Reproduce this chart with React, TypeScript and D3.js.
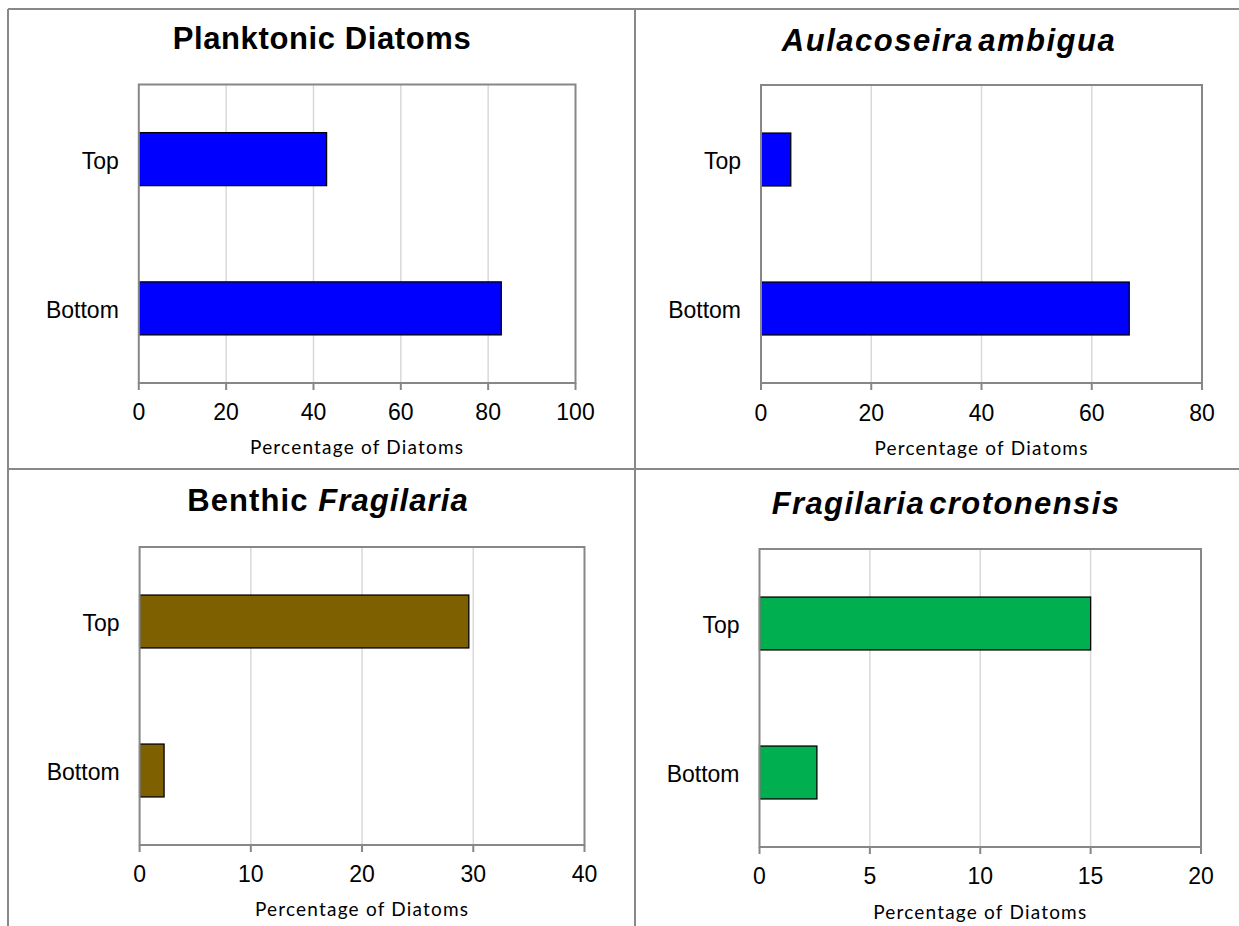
import React from "react";
import * as d3 from "d3";

const categories = ["Top", "Bottom"];
const planktonicValues = [43.0, 83.0];
const aulacoseiraValues = [5.4, 66.8];
const benthicValues = [29.6, 2.2];
const crotonensisValues = [15.0, 2.6];
const ticksPlanktonic = [0, 20, 40, 60, 80, 100];
const ticksAulacoseira = [0, 20, 40, 60, 80];
const ticksBenthic = [0, 10, 20, 30, 40];
const ticksCrotonensis = [0, 5, 10, 15, 20];
const axisTitleText = "Percentage of Diatoms";

type Seg = { text: string; italic?: boolean };
const titlePlanktonic: Seg[] = [{ text: "Planktonic Diatoms" }];
const titleAulacoseira: Seg[] = [{ text: "Aulacoseira ambigua", italic: true }];
const titleBenthic: Seg[] = [{ text: "Benthic " }, { text: "Fragilaria", italic: true }];
const titleCrotonensis: Seg[] = [{ text: "Fragilaria crotonensis", italic: true }];

const panels = [
  { title: titlePlanktonic, values: planktonicValues, ticks: ticksPlanktonic, color: "#0000ff",
    box: { x0: 138.8, x1: 575.5, y0: 84.5, y1: 383 }, titleX: 322, titleY: 48.5, ls: 0.6, ws: 0, tickY: 420, axisTitleY: 454 },
  { title: titleAulacoseira, values: aulacoseiraValues, ticks: ticksAulacoseira, color: "#0000ff",
    box: { x0: 761, x1: 1202, y0: 85, y1: 383 }, titleX: 949, titleY: 51, ls: 1.5, ws: -6, tickY: 420.5, axisTitleY: 455 },
  { title: titleBenthic, values: benthicValues, ticks: ticksBenthic, color: "#7f6000",
    box: { x0: 139.6, x1: 584.5, y0: 547, y1: 845 }, titleX: 328, titleY: 511, ls: 1.1, ws: 0, tickY: 881.5, axisTitleY: 916 },
  { title: titleCrotonensis, values: crotonensisValues, ticks: ticksCrotonensis, color: "#00b050",
    box: { x0: 759.5, x1: 1201, y0: 549, y1: 847 }, titleX: 946, titleY: 514, ls: 1.4, ws: -6, tickY: 884, axisTitleY: 919 },
];

const LABEL_FONT = "'Liberation Sans', Arial, sans-serif";
const AXIS_TITLE_FONT = "Lato, 'Open Sans', sans-serif";

function Panel({ p }: { p: (typeof panels)[number] }) {
  const { box } = p;
  const x = d3.scaleLinear().domain([p.ticks[0], p.ticks[p.ticks.length - 1]]).range([box.x0, box.x1]);
  const gap = 0.645;
  const y = d3.scaleBand<string>().domain(categories).range([box.y0, box.y1]).paddingInner(gap).paddingOuter(gap / 2);
  return (
    <g>
      <text x={p.titleX} y={p.titleY} textAnchor="middle" fontFamily={LABEL_FONT} fontWeight="bold" fontSize={31}
        letterSpacing={p.ls} wordSpacing={p.ws} fill="#000">
        {p.title.map((s, i) => (
          <tspan key={i} fontStyle={s.italic ? "italic" : "normal"}>{s.text}</tspan>
        ))}
      </text>
      {p.ticks.slice(1, -1).map((t) => (
        <line key={"g" + t} x1={x(t)} x2={x(t)} y1={box.y0} y2={box.y1} stroke="#d9d9d9" strokeWidth={1.5} />
      ))}
      {categories.map((c, i) => (
        <rect key={c} x={x(0)} y={y(c)!} width={x(p.values[i]) - x(0)} height={y.bandwidth()}
          fill={p.color} stroke="#000" strokeWidth={1.3} />
      ))}
      <rect x={box.x0} y={box.y0} width={box.x1 - box.x0} height={box.y1 - box.y0} fill="none" stroke="#878787" strokeWidth={2} />
      {p.ticks.map((t) => (
        <line key={"t" + t} x1={x(t)} x2={x(t)} y1={box.y1} y2={box.y1 + 7} stroke="#878787" strokeWidth={2} />
      ))}
      {p.ticks.map((t) => (
        <text key={"l" + t} x={x(t)} y={p.tickY} textAnchor="middle" fontFamily={LABEL_FONT} fontSize={23} fill="#000">{t}</text>
      ))}
      {categories.map((c) => (
        <text key={"c" + c} x={box.x0 - 20} y={y(c)! + y.bandwidth() / 2 + 9.5} textAnchor="end" fontFamily={LABEL_FONT} fontSize={23} fill="#000">{c}</text>
      ))}
      <text x={(box.x0 + box.x1) / 2} y={p.axisTitleY} textAnchor="middle" fontFamily={AXIS_TITLE_FONT} fontSize={19}
        letterSpacing={1.2} fill="#000">{axisTitleText}</text>
    </g>
  );
}

export default function App() {
  return (
    <svg width={1239} height={926} style={{ position: "absolute", left: 0, top: 0, background: "#fff" }}>
      <rect x={0} y={0} width={1239} height={926} fill="#fff" />
      <line x1={8} x2={1239} y1={9} y2={9} stroke="#888" strokeWidth={2} />
      <line x1={8} x2={8} y1={9} y2={926} stroke="#888" strokeWidth={2} />
      <line x1={635} x2={635} y1={9} y2={926} stroke="#888" strokeWidth={2} />
      <line x1={8} x2={1239} y1={469} y2={469} stroke="#888" strokeWidth={2} />
      {panels.map((p, i) => (
        <Panel key={i} p={p} />
      ))}
    </svg>
  );
}
